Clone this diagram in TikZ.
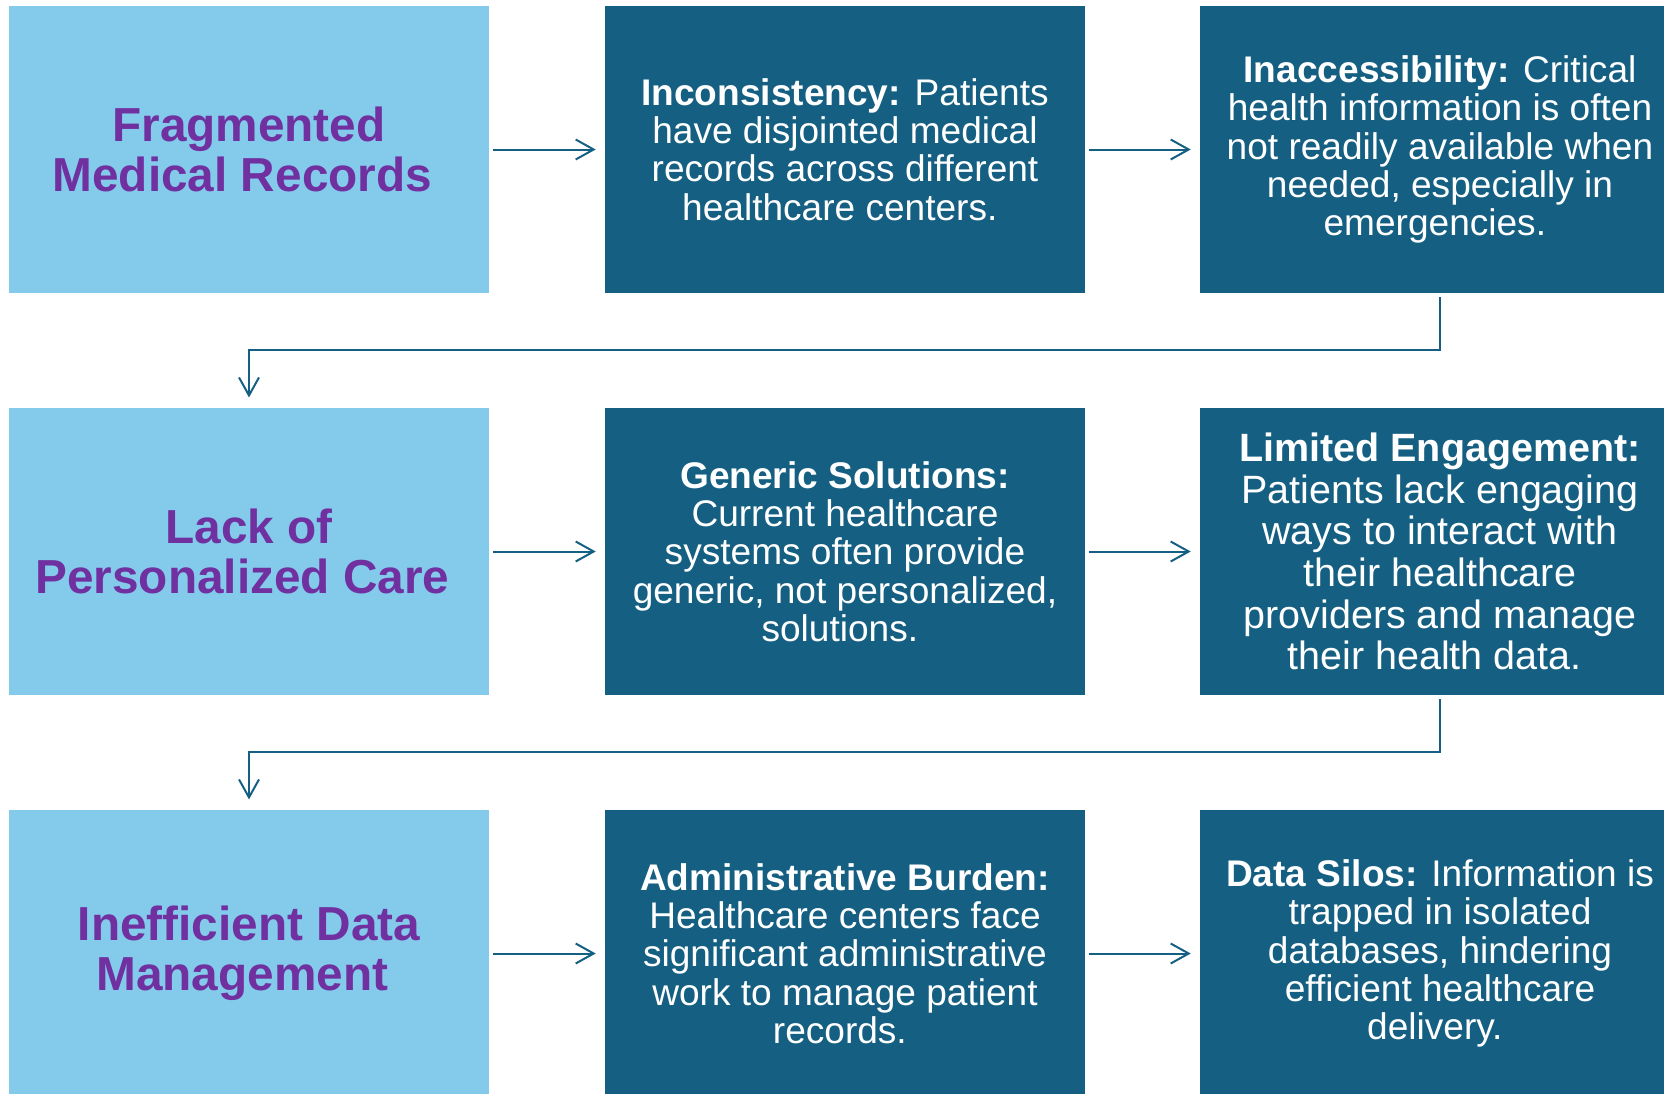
\documentclass[tikz,border=0pt]{standalone}
\usepackage{fontspec}
\setmainfont{Liberation Sans}
\usetikzlibrary{arrows.meta}
\definecolor{skyfill}{HTML}{83CAEB}
\definecolor{tealfill}{HTML}{156082}
\definecolor{titlepurple}{HTML}{7030A0}

\begin{document}
\begin{tikzpicture}[x=0.75pt,y=0.75pt,yscale=-1,xscale=1,
  issue/.style={fill=skyfill, minimum width=360pt, minimum height=215.25pt, inner sep=0pt, align=center, text=titlepurple, font={\fontsize{35.8}{37.5}\selectfont\bfseries}},
  detail/.style={fill=tealfill, minimum width=360pt, minimum height=215.25pt, inner sep=0pt, align=center, text=white, font={\fontsize{27.8}{28.7}\selectfont}},
  flow/.style={draw=tealfill, line width=1.5pt, -{Straight Barb[length=13.5pt,width=15pt]}}
]
\useasboundingbox (0,0) rectangle (1664,1093);
\clip (0,0) rectangle (1664,1093);

% first row
\node [issue] (frag) at (249,149.5) {Fragmented\\Medical Records\hspace*{.278em}};
\node [detail] (incons) at (845,149.5) {\textbf{Inconsistency:} Patients\\have disjointed medical\\records across different\\healthcare centers.\hspace*{.278em}};
\node [detail] (inacc) at (1440,149.5) {\textbf{Inaccessibility:} Critical\\health information is often\\not readily available when\\needed, especially in\\emergencies.\hspace*{.278em}};

% second row
\node [issue] (lack) at (249,551.5) {Lack of\\Personalized Care\hspace*{.278em}};
\node [detail] (generic) at (845,551.5) {\textbf{Generic Solutions:}\\Current healthcare\\systems often provide\\generic, not personalized,\\solutions.\hspace*{.278em}};
\node [detail, font={\fontsize{29.6}{31.3}\selectfont}] (engage) at (1440,551.5) {\textbf{Limited Engagement:}\\Patients lack engaging\\ways to interact with\\their healthcare\\providers and manage\\their health data.\hspace*{.278em}};

% third row
\node [issue] (ineff) at (249,953.5) {Inefficient Data\\Management\hspace*{.278em}};
\node [detail] (admin) at (845,953.5) {\textbf{Administrative Burden:}\\Healthcare centers face\\significant administrative\\work to manage patient\\records.\hspace*{.278em}};
\node [detail] (silos) at (1440,953.5) {\textbf{Data Silos:} Information is\\trapped in isolated\\databases, hindering\\efficient healthcare\\delivery.\hspace*{.278em}};

\coordinate (bendA) at (845,350);
\coordinate (bendB) at (845,752);

\draw [flow, shorten <=3pt, shorten >=6.75pt] (frag) -- (incons);
\draw [flow, shorten <=3pt, shorten >=6.75pt] (incons) -- (inacc);
\draw [flow, shorten <=3pt, shorten >=7.7pt] (inacc.south) |- (bendA) -| (lack.north);
\draw [flow, shorten <=3pt, shorten >=6.75pt] (lack) -- (generic);
\draw [flow, shorten <=3pt, shorten >=6.75pt] (generic) -- (engage);
\draw [flow, shorten <=3pt, shorten >=7.7pt] (engage.south) |- (bendB) -| (ineff.north);
\draw [flow, shorten <=3pt, shorten >=6.75pt] (ineff) -- (admin);
\draw [flow, shorten <=3pt, shorten >=6.75pt] (admin) -- (silos);

\end{tikzpicture}
\end{document}
